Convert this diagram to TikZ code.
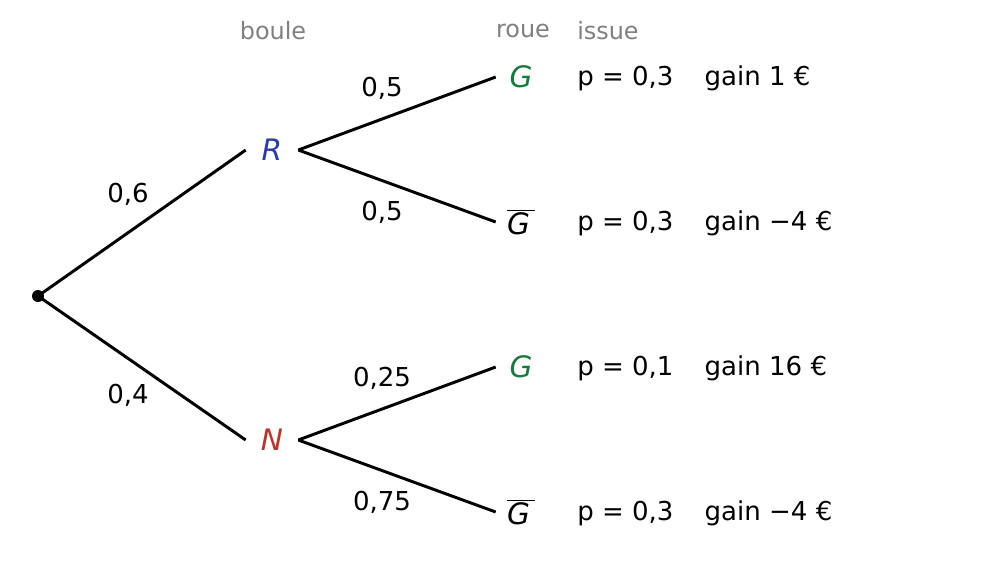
\documentclass[tikz,border=0pt]{standalone}
\usepackage{fontspec}
\setmainfont{DejaVu Sans}
\definecolor{cg}{RGB}{20,125,60}
\definecolor{cb}{RGB}{40,60,170}
\definecolor{cr}{RGB}{190,50,40}
\definecolor{hd}{RGB}{128,128,128}
\begin{document}
\begin{tikzpicture}[x=0.025cm,y=-0.025cm,
  br/.style={line width=2.1pt},
  lvl/.style={inner sep=0,minimum width=1.3cm,minimum height=0.8cm,font=\fontsize{21}{24}\selectfont\itshape},
  leaf/.style={inner sep=0,minimum width=1.25cm,minimum height=0.8cm,font=\fontsize{21}{24}\selectfont\itshape},
  lab/.style={font=\fontsize{18.5}{22}\selectfont},
  hdr/.style={font=\fontsize{17}{20}\selectfont,text=hd}]
\useasboundingbox (0,0) rectangle (1006,561);
\node[circle,fill,inner sep=0,minimum size=0.3cm] (o) at (38,296) {};
\node[lvl,text=cb] (R) at (272,150) {R};
\node[lvl,text=cr] (N) at (272,440) {N};
\node[leaf,text=cg] (G1) at (521,77) {G};
\node[leaf] (G2) at (521,222) {$\overline{\mbox{\itshape G\,}}$};
\node[leaf,text=cg] (G3) at (521,367) {G};
\node[leaf] (G4) at (521,512) {$\overline{\mbox{\itshape G\,}}$};
\draw[br] (o.center) -- (R.west);
\draw[br] (o.center) -- (N.west);
\draw[br] (R.east) -- (G1.west);
\draw[br] (R.east) -- (G2.west);
\draw[br] (N.east) -- (G3.west);
\draw[br] (N.east) -- (G4.west);
\node[lab] (a) at (128,194) {0,6};
\node[lab] (b) at (128,395) {0,4};
\node[lab] (c) at (382,88) {0,5};
\node[lab] (d) at (382,212) {0,5};
\node[lab] (e) at (382,378) {0,25};
\node[lab] (f) at (382,502) {0,75};
\node[hdr] (h1) at (273,31) {boule};
\node[hdr] (h2) at (523,31) {roue};
\node[hdr,anchor=west,inner sep=0] (h3) at (577,31) {issue};
\node[lab,anchor=west,inner sep=0] (p1) at (577,78) {p = 0,3\hspace{1.2em}gain 1 €};
\node[lab,anchor=west,inner sep=0] (p2) at (577,223) {p = 0,3\hspace{1.2em}gain −4 €};
\node[lab,anchor=west,inner sep=0] (p3) at (577,368) {p = 0,1\hspace{1.2em}gain 16 €};
\node[lab,anchor=west,inner sep=0] (p4) at (577,513) {p = 0,3\hspace{1.2em}gain −4 €};
\end{tikzpicture}
\end{document}
